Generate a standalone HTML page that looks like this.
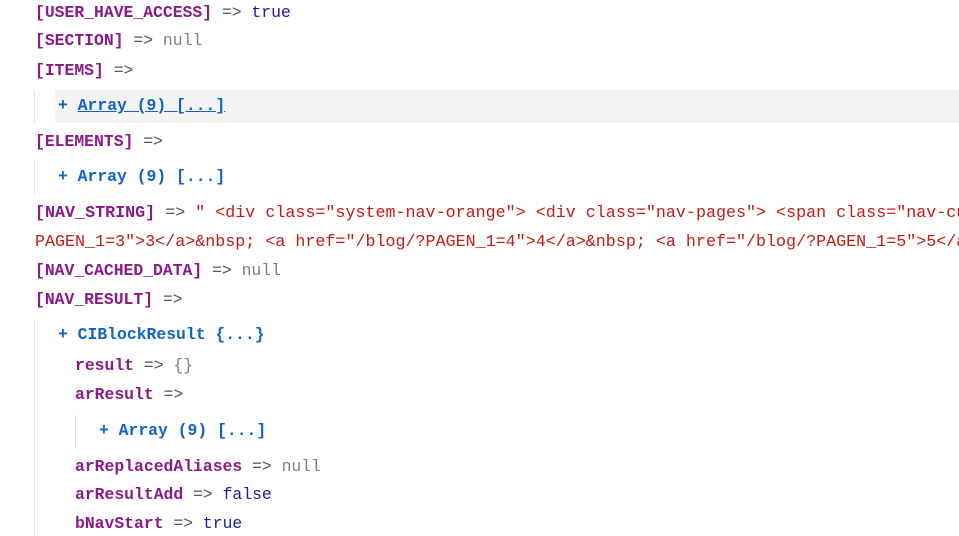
<!DOCTYPE html>
<html><head><style>
body{margin:0;width:959px;height:536px;overflow:hidden;background:#fff;position:relative;font-family:"Liberation Mono",monospace;font-size:16.4px;font-weight:bold}
.l{position:absolute;white-space:nowrap;line-height:20px}
.k{color:#8a1a8a}.o{color:#555;font-weight:normal}.t{color:#1c1c9c;font-weight:normal}.n{color:#808080;font-weight:normal}
.b{color:#1064c8}.s{color:#c41a16;font-weight:normal;font-size:16.7px;overflow:hidden;width:924px}
.g{position:absolute;width:1px;background:#e2e2e2}
</style></head><body>
<div style="position:absolute;left:55px;top:90px;width:904px;height:33px;background:#f3f3f3"></div>
<div class="g" style="left:34px;top:90px;height:33px"></div>
<div class="g" style="left:34px;top:161px;height:33px"></div>
<div class="g" style="left:34px;top:320px;height:216px"></div>
<div class="g" style="left:75px;top:415px;height:33px"></div>
<div class="l" style="left:35px;top:3px"><span class="k">[USER_HAVE_ACCESS]</span> <span class="o">=&gt;</span> <span class="t">true</span></div>
<div class="l" style="left:35px;top:31px"><span class="k">[SECTION]</span> <span class="o">=&gt;</span> <span class="n">null</span></div>
<div class="l" style="left:35px;top:61px"><span class="k">[ITEMS]</span> <span class="o">=&gt;</span></div>
<div class="l b" style="left:58px;top:96px">+ <span style="text-decoration:underline">Array (9) [...]</span></div>
<div class="l" style="left:35px;top:132px"><span class="k">[ELEMENTS]</span> <span class="o">=&gt;</span></div>
<div class="l b" style="left:58px;top:167px">+ Array (9) [...]</div>
<div class="l s" style="left:35px;top:204px"><span class="k" style="font-weight:bold">[NAV_STRING]</span> <span class="o">=&gt;</span> " &lt;div class="system-nav-orange"&gt; &lt;div class="nav-pages"&gt; &lt;span class="nav-current-page"&gt;</div>
<div class="l s" style="left:35px;top:233px">PAGEN_1=3"&gt;3&lt;/a&gt;&amp;nbsp; &lt;a href="/blog/?PAGEN_1=4"&gt;4&lt;/a&gt;&amp;nbsp; &lt;a href="/blog/?PAGEN_1=5"&gt;5&lt;/a&gt;</div>
<div class="l" style="left:35px;top:261px"><span class="k">[NAV_CACHED_DATA]</span> <span class="o">=&gt;</span> <span class="n">null</span></div>
<div class="l" style="left:35px;top:290px"><span class="k">[NAV_RESULT]</span> <span class="o">=&gt;</span></div>
<div class="l b" style="left:58px;top:325px">+ CIBlockResult {...}</div>
<div class="l" style="left:75px;top:356px"><span class="k">result</span> <span class="o">=&gt;</span> <span class="n">{}</span></div>
<div class="l" style="left:75px;top:385px"><span class="k">arResult</span> <span class="o">=&gt;</span></div>
<div class="l b" style="left:99px;top:421px">+ Array (9) [...]</div>
<div class="l" style="left:75px;top:457px"><span class="k">arReplacedAliases</span> <span class="o">=&gt;</span> <span class="n">null</span></div>
<div class="l" style="left:75px;top:485px"><span class="k">arResultAdd</span> <span class="o">=&gt;</span> <span class="t">false</span></div>
<div class="l" style="left:75px;top:514px"><span class="k">bNavStart</span> <span class="o">=&gt;</span> <span class="t">true</span></div>
</body></html>
